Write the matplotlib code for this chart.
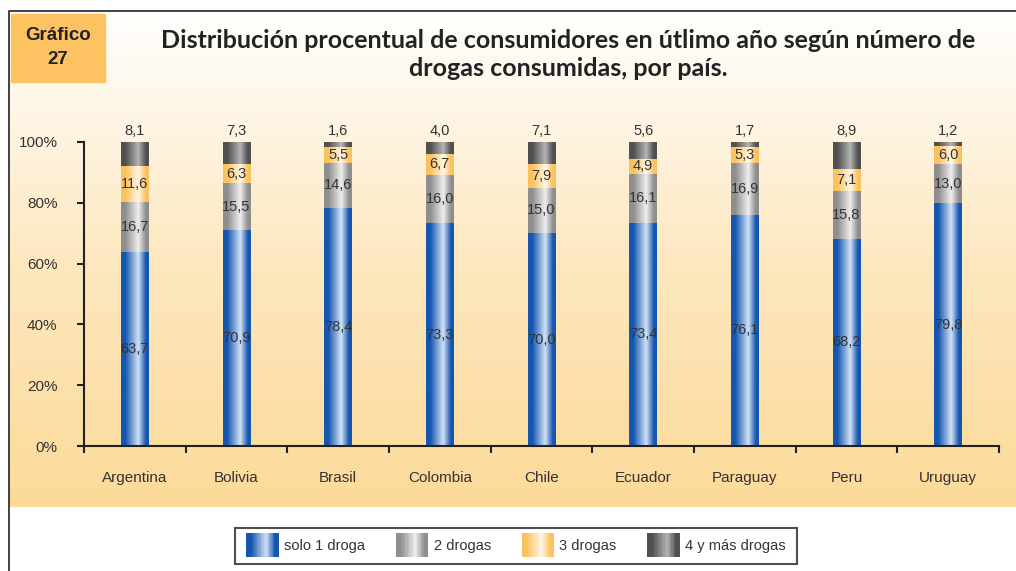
import matplotlib.pyplot as plt
import matplotlib.patches as mpatches
from matplotlib.legend_handler import HandlerBase
from matplotlib.colors import LinearSegmentedColormap
import numpy as np

paises = ['Argentina', 'Bolivia', 'Brasil', 'Colombia', 'Chile',
          'Ecuador', 'Paraguay', 'Peru', 'Uruguay']
una_droga = [63.7, 70.9, 78.4, 73.3, 70.0, 73.4, 76.1, 68.2, 79.8]
dos_drogas = [16.7, 15.5, 14.6, 16.0, 15.0, 16.1, 16.9, 15.8, 13.0]
tres_drogas = [11.6, 6.3, 5.5, 6.7, 7.9, 4.9, 5.3, 7.1, 6.0]
cuatro_drogas = [8.1, 7.3, 1.6, 4.0, 7.1, 5.6, 1.7, 8.9, 1.2]
series = ['solo 1 droga', '2 drogas', '3 drogas', '4 y más drogas']

# cylinder-like gradients: edge colour, highlight colour
grad_cols = [('#1456b0', '#d2e2f4'), ('#8e8e8e', '#eeeeee'),
             ('#fbc25e', '#fff6e4'), ('#505050', '#b4b4b4')]
txt_col = '#333333'


def make_cmap(edge, light):
    return LinearSegmentedColormap.from_list(
        'g', [(0, edge), (0.15, edge), (0.62, light), (0.9, edge), (1, edge)])


cmaps = [make_cmap(e, l) for e, l in grad_cols]
grad = np.linspace(0, 1, 64).reshape(1, -1)

plt.rcParams['font.family'] = ['Liberation Sans', 'DejaVu Sans']
fig = plt.figure(figsize=(10.16, 5.71), dpi=100)

# background with frame and vertical gradient
bg = fig.add_axes([0, 0, 1, 1], zorder=-10)
bg.set_xlim(0, 1016)
bg.set_ylim(571, 0)
bg.axis('off')
vgrad = np.linspace(0, 1, 256).reshape(-1, 1)
bg_cmap = LinearSegmentedColormap.from_list('bg', ['#ffffff', '#fde8c0', '#fcda98'])
bg.imshow(vgrad, extent=[9, 1016, 507, 11], cmap=bg_cmap, aspect='auto')
bg.plot([9, 9, 1016], [571, 11, 11], color='#222222', lw=1.2)
bg.add_patch(mpatches.Rectangle((11, 14), 94, 68, color='#fdc262'))
bg.text(58, 36, 'Gráfico', ha='center', va='center', fontsize=13.5,
        fontweight='bold', color='#222222')
bg.text(58, 59, '27', ha='center', va='center', fontsize=13.5,
        fontweight='bold', color='#222222')
bg.text(568, 40, 'Distribución procentual de consumidores en útlimo año según número de',
        ha='center', va='center', fontsize=18, fontweight='bold', color='#222222',
        family='Lato')
bg.text(568, 69, 'drogas consumidas, por país.',
        ha='center', va='center', fontsize=18, fontweight='bold', color='#222222',
        family='Lato')

ax = fig.add_axes([84 / 1016, 125 / 571, 915 / 1016, 304 / 571])
ax.patch.set_alpha(0)

x = np.arange(len(paises))
w = 0.275
datos = [una_droga, dos_drogas, tres_drogas, cuatro_drogas]
bottom = np.zeros(len(paises))
for i, vals in enumerate(datos):
    bars = ax.bar(x, vals, w, bottom=bottom, color='none', label=series[i])
    for j, r in enumerate(bars):
        x0, y0 = r.get_x(), r.get_y()
        ax.imshow(grad, extent=[x0, x0 + r.get_width(), y0, y0 + r.get_height()],
                  cmap=cmaps[i], aspect='auto', zorder=2)
        if i < 3:
            ty = y0 + r.get_height() / 2
            va = 'center'
        else:
            ty = y0 + r.get_height() + 1.3
            va = 'bottom'
        ax.text(r.get_x() + w / 2, ty, f'{vals[j]:.1f}'.replace('.', ','),
                ha='center', va=va, fontsize=10.5, color=txt_col, zorder=3)
    bottom += np.array(vals)

ax.set_xlim(-0.5, len(paises) - 0.5)
ax.set_ylim(0, 100)
ax.set_yticks(range(0, 101, 20))
ax.set_yticklabels([f'{v}%' for v in range(0, 101, 20)])
ax.set_xticks(np.arange(-0.5, len(paises), 1))
ax.set_xticklabels([])
ax.set_xticks(x, minor=True)
ax.set_xticklabels(paises, minor=True)
ax.tick_params(axis='x', which='minor', length=0, pad=18, labelsize=11, colors=txt_col)
ax.tick_params(axis='x', which='major', length=5, width=1.5, direction='out', color='#222222')
ax.tick_params(axis='y', length=5, width=1.5, direction='out', color='#222222',
               labelsize=11, labelcolor=txt_col, pad=14)
for s in ['top', 'right']:
    ax.spines[s].set_visible(False)
for s in ['left', 'bottom']:
    ax.spines[s].set_linewidth(1.5)
    ax.spines[s].set_color('#222222')


class GradHandler(HandlerBase):
    def __init__(self, cmap):
        super().__init__()
        self.cmap = cmap

    def create_artists(self, legend, orig_handle, xdescent, ydescent,
                       width, height, fontsize, trans):
        arts = []
        n = 24
        for k in range(n):
            arts.append(mpatches.Rectangle(
                (-xdescent + width * k / n, -ydescent - 5), width / n + 0.3, height + 10,
                color=self.cmap((k + 0.5) / n), transform=trans, lw=0))
        return arts


handles = [mpatches.Patch(label=s) for s in series]
leg = fig.legend(handles=handles, labels=series, ncol=4, loc='center',
                 bbox_to_anchor=(516 / 1016, 1 - 546 / 571), frameon=True,
                 fancybox=False, edgecolor='#222222', fontsize=10.5,
                 handlelength=2.2, handletextpad=0.4, columnspacing=2.1,
                 borderpad=0.75, handler_map={h: GradHandler(cmaps[i]) for i, h in enumerate(handles)})
leg.get_frame().set_linewidth(1.5)
for t in leg.get_texts():
    t.set_color(txt_col)

fig.savefig('out.png', dpi=100)
